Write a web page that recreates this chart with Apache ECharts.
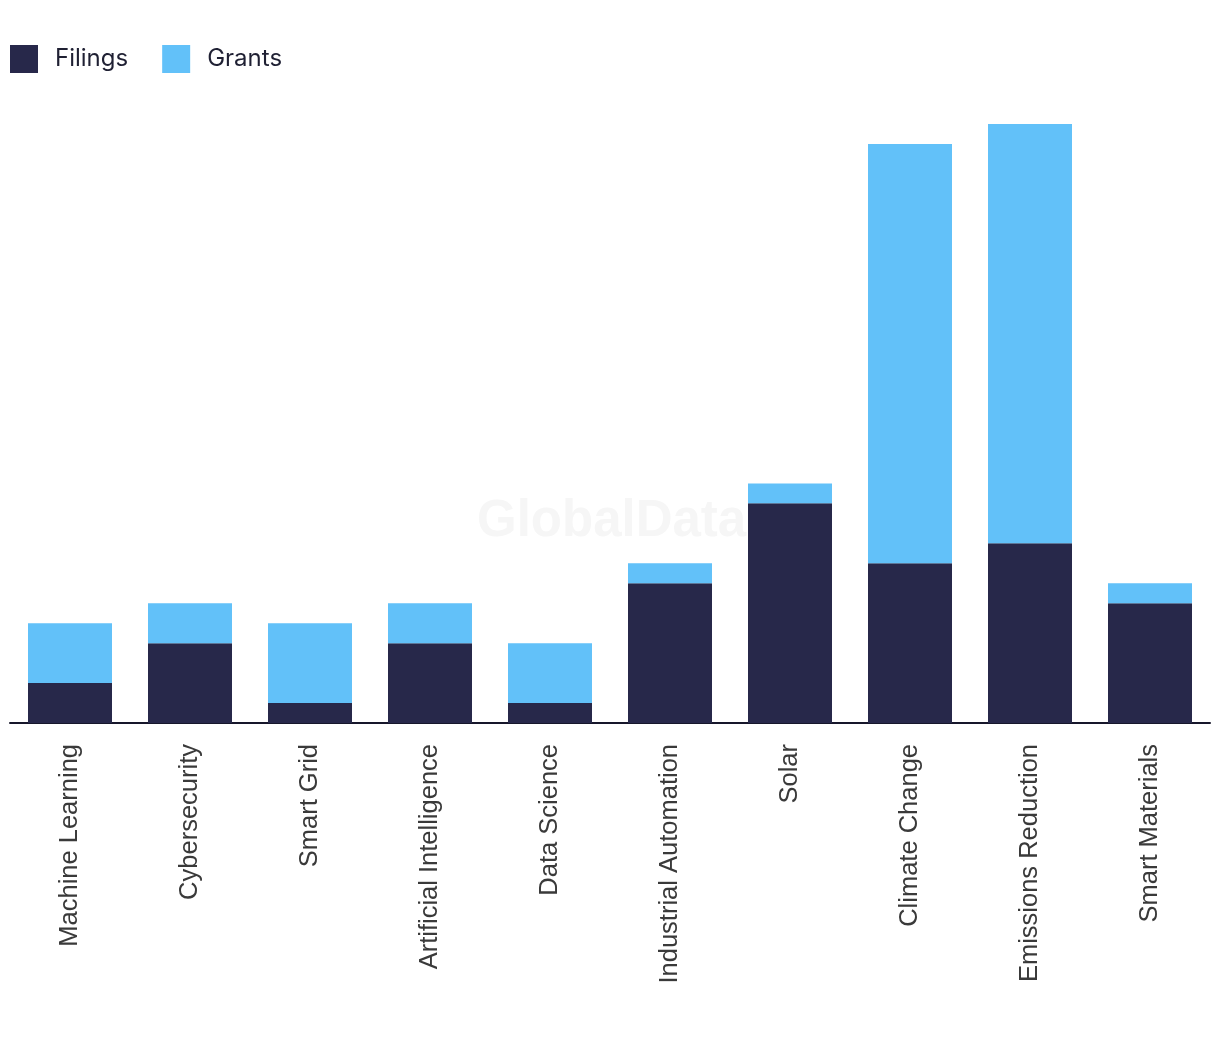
<!DOCTYPE html>
<html>
<head>
<meta charset="utf-8">
<script src="https://cdn.jsdelivr.net/npm/echarts@6/dist/echarts.min.js"></script>
<style>html,body{margin:0;padding:0;background:#fff}#c{width:1220px;height:1042px}</style>
</head>
<body>
<div id="c"></div>
<script>
const categories = ["Machine Learning","Cybersecurity","Smart Grid","Artificial Intelligence","Data Science","Industrial Automation","Solar","Climate Change","Emissions Reduction","Smart Materials"];
const filings = [2, 4, 1, 4, 1, 7, 11, 8, 9, 6];
const grants  = [3, 2, 4, 2, 3, 1, 1, 21, 21, 1];

const chart = echarts.init(document.getElementById('c'), null, {renderer: 'canvas'});
chart.setOption({
  animation: false,
  backgroundColor: '#fff',
  graphic: [{
    type: 'text', left: 477, top: 496, z: 0, silent: true,
    style: {text: 'GlobalData', font: 'bold 51px "Liberation Sans", Arial, sans-serif', fill: '#f6f6f6'}
  }],
  legend: {
    left: 10, top: 45, padding: 0, itemWidth: 28, itemHeight: 28, itemGap: 34, icon: 'rect',
    data: ['Filings', 'Grants'],
    textStyle: {fontFamily: 'Inter, "Liberation Sans", sans-serif', fontSize: 24, color: '#1f2033', padding: [0, 0, 0, 12]}
  },
  grid: {left: 10, right: 10, top: 124, bottom: 319, containLabel: false},
  xAxis: {
    type: 'category', data: categories,
    axisLine: {lineStyle: {color: '#17172b', width: 2}},
    axisTick: {show: false},
    axisLabel: {rotate: 90, margin: 21, fontSize: 25.5, color: '#3a3a3a', fontFamily: '"Liberation Sans", Arial, sans-serif', interval: 0}
  },
  yAxis: {type: 'value', min: 0, max: 30, show: false, splitLine: {show: false}},
  series: [
    {name: 'Filings', type: 'bar', stack: 'a', data: filings, barWidth: 84, itemStyle: {color: '#27284a'}, z: 2},
    {name: 'Grants', type: 'bar', stack: 'a', data: grants, barWidth: 84, itemStyle: {color: '#62c1f9'}, z: 2}
  ]
});
</script>
</body>
</html>
